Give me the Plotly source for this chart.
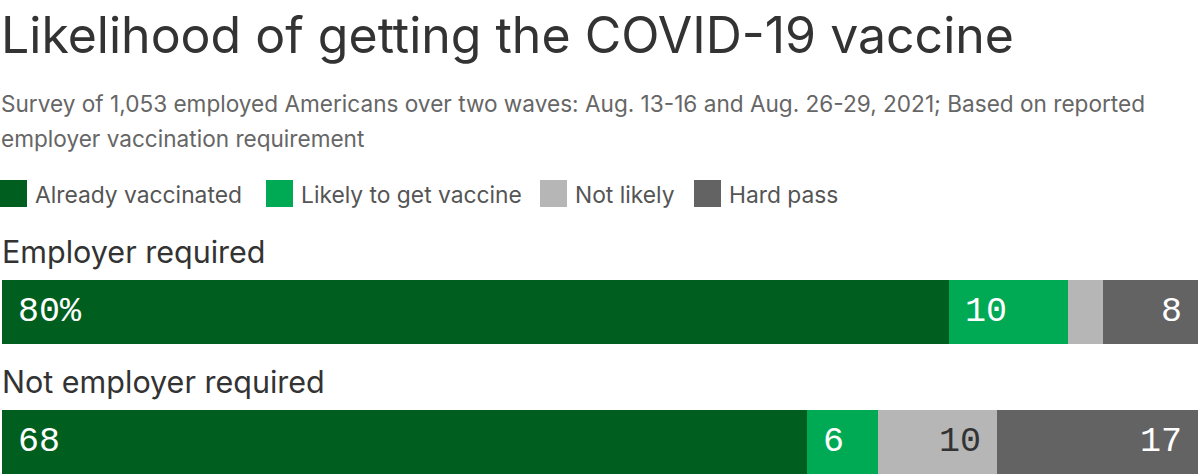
import plotly.graph_objects as go

categories = ["Employer required", "Not employer required"]
series_names = ["Already vaccinated", "Likely to get vaccine", "Not likely", "Hard pass"]
values = {
    "Already vaccinated": [80, 68],
    "Likely to get vaccine": [10, 6],
    "Not likely": [3, 10],
    "Hard pass": [8, 17],
}
labels = {
    "Already vaccinated": ["80%", "68"],
    "Likely to get vaccine": ["10", "6"],
    "Not likely": ["", "10"],
    "Hard pass": ["8", "17"],
}
colors = ["#005f1f", "#00aa55", "#b6b6b6", "#636363"]
label_colors = ["#ffffff", "#ffffff", "#333333", "#ffffff"]
label_side = ["start", "start", "end", "end"]

title = "Likelihood of getting the COVID-19 vaccine"
subtitle1 = "Survey of 1,053 employed Americans over two waves: Aug. 13-16 and Aug. 26-29, 2021; Based on reported"
subtitle2 = "employer vaccination requirement"

W, H = 1200, 474
FONT = "Inter"
MONO = "Liberation Mono"

fig = go.Figure()
bases = [0.0 for _ in categories]
annotations = []
for i, name in enumerate(series_names):
    vals = values[name]
    fig.add_trace(go.Bar(
        y=categories, x=vals, base=list(bases), orientation="h",
        name=name, marker=dict(color=colors[i], line=dict(width=0)),
        width=64 / 130, showlegend=False, hoverinfo="skip",
    ))
    for j, cat in enumerate(categories):
        txt = labels[name][j]
        if txt:
            if label_side[i] == "start":
                annotations.append(dict(
                    x=bases[j], y=cat, xref="x", yref="y", text=txt,
                    xanchor="left", yanchor="middle", xshift=14, showarrow=False,
                    font=dict(family=MONO, size=35, color=label_colors[i])))
            else:
                annotations.append(dict(
                    x=bases[j] + vals[j], y=cat, xref="x", yref="y", text=txt,
                    xanchor="right", yanchor="middle", xshift=-14, showarrow=False,
                    font=dict(family=MONO, size=35, color=label_colors[i])))
        bases[j] += vals[j]

total = max(bases)

# category labels above bars
for cat in categories:
    annotations.append(dict(
        x=0, y=cat, xref="paper", yref="y", text=cat, xanchor="left", yanchor="middle",
        yshift=61, xshift=-2, showarrow=False,
        font=dict(family=FONT, size=30.5, color="#333333")))

def py(px):
    return 1 - px / H

annotations.append(dict(x=0, y=py(35), xref="paper", yref="paper", text=title,
                        xanchor="left", yanchor="middle", showarrow=False, xshift=-3,
                        font=dict(family=FONT, size=50, color="#333333")))
annotations.append(dict(x=0, y=py(103), xref="paper", yref="paper", text=subtitle1,
                        xanchor="left", yanchor="middle", showarrow=False, xshift=-3,
                        font=dict(family=FONT, size=22.6, color="#666666")))
annotations.append(dict(x=0, y=py(138), xref="paper", yref="paper", text=subtitle2,
                        xanchor="left", yanchor="middle", showarrow=False, xshift=-3,
                        font=dict(family=FONT, size=22.6, color="#666666")))

# legend (swatches + labels)
legend_x = [0, 266, 540, 694]
shapes = []
for i, name in enumerate(series_names):
    x0 = legend_x[i]
    shapes.append(dict(type="rect", xref="paper", yref="paper",
                       x0=(x0 - 2) / (W - 4), x1=(x0 + 25) / (W - 4), y0=py(207), y1=py(180),
                       fillcolor=colors[i], line=dict(width=0)))
    annotations.append(dict(x=(x0 + 31) / (W - 4), y=py(194), xref="paper", yref="paper",
                            text=name, xanchor="left", yanchor="middle", showarrow=False,
                            font=dict(family=FONT, size=22.8, color="#555555")))

fig.update_layout(
    width=W, height=H, margin=dict(l=2, r=2, t=0, b=0),
    paper_bgcolor="white", plot_bgcolor="white",
    barmode="overlay", bargap=0,
    xaxis=dict(range=[0, total], visible=False, fixedrange=True),
    yaxis=dict(type="category", categoryarray=categories, range=[1 + 32 / 130, -32 / 130],
               domain=[0, 194 / H], visible=False, fixedrange=True),
    annotations=annotations, shapes=shapes,
)
fig.write_html("out.html", config={"displayModeBar": False},
               post_script="document.body.style.margin='0';document.body.style.overflow='hidden';")
